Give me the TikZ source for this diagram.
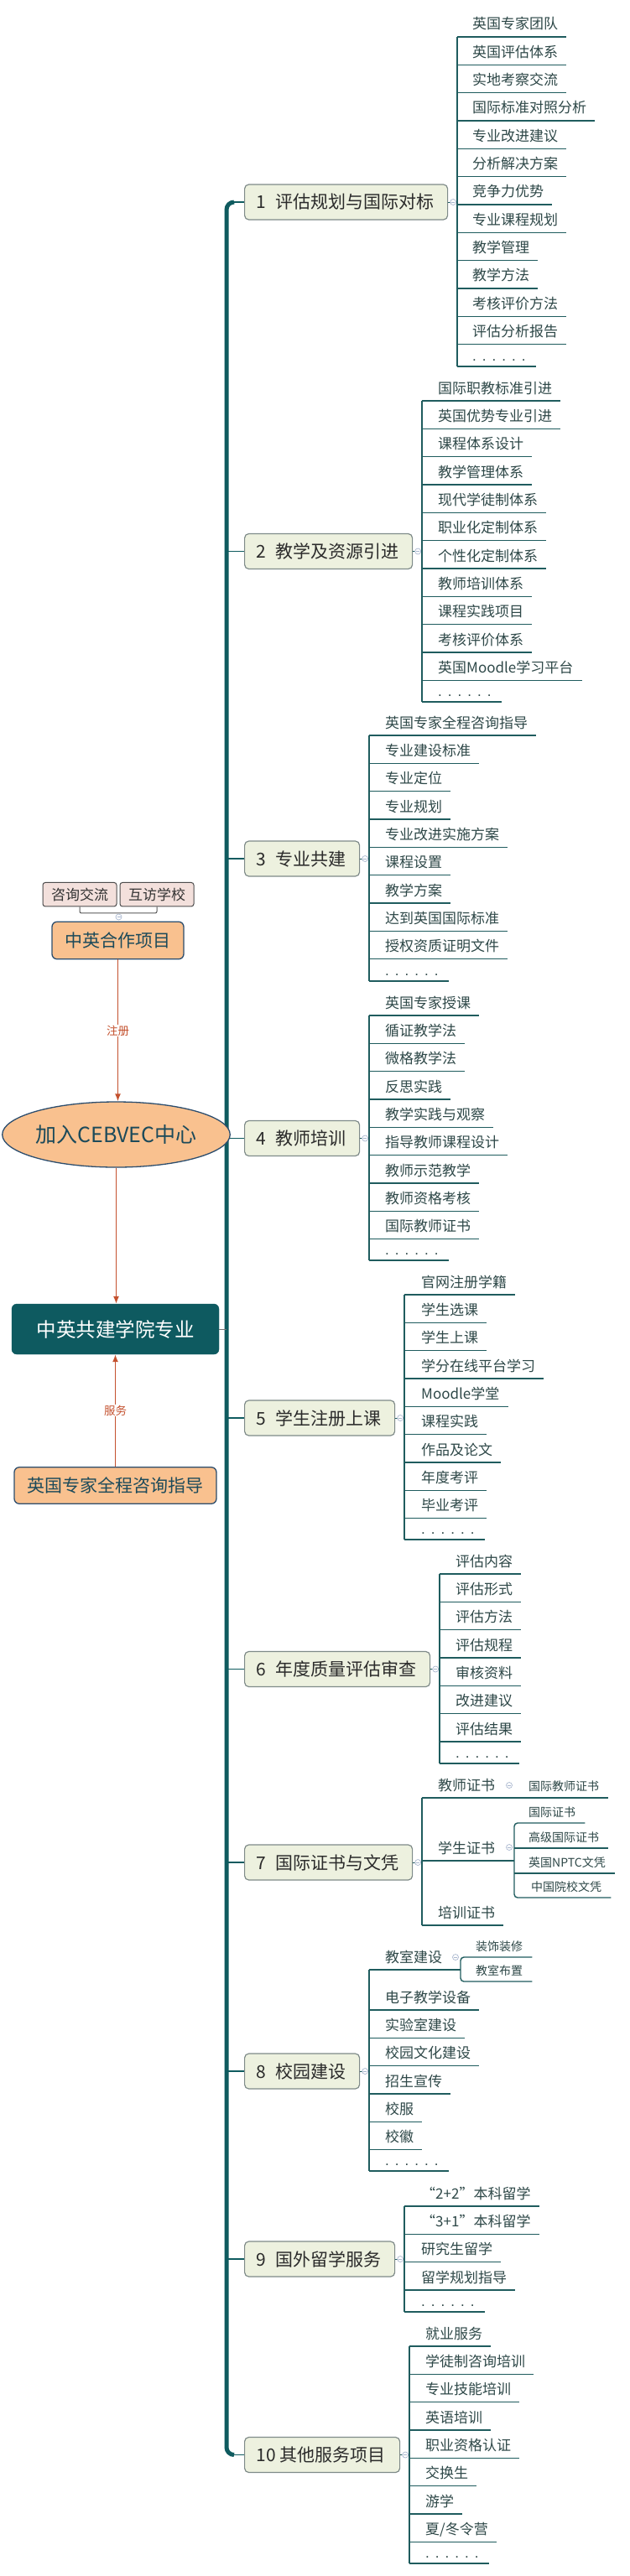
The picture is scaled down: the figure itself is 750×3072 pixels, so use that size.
\documentclass[tikz,border=0pt]{standalone}
\usepackage{fontspec}
\usepackage{graphicx}
\setmainfont{Noto Sans CJK SC}
\newfontfamily\latf{Liberation Sans}
\usetikzlibrary{shapes.geometric,arrows.meta}
\definecolor{spinec}{HTML}{0F5B5F}
\definecolor{linec}{HTML}{1F5C5E}
\definecolor{itemc}{HTML}{2E4848}
\definecolor{nodef}{HTML}{EDF1DF}
\definecolor{nodeb}{HTML}{7F8B89}
\definecolor{nodet}{HTML}{2B2B2B}
\definecolor{orf}{HTML}{F9C18F}
\definecolor{orb}{HTML}{2C4D6D}
\definecolor{ort}{HTML}{1C4A5A}
\definecolor{pillf}{HTML}{F3E0DC}
\definecolor{arrc}{HTML}{C4512E}
\definecolor{darkf}{HTML}{0E5A60}
\definecolor{minc}{HTML}{A9B7CF}
\tikzset{
  x=1pt, y=-1pt,
  mainbox/.style={draw=nodeb, fill=nodef, line width=1.2pt, rounded corners=5pt,
    minimum height=42pt, inner xsep=14pt, inner ysep=0pt, anchor=west, align=left,
    font=\fontsize{21}{25}\selectfont, text=nodet},
  leaf/.style={inner sep=0pt, anchor=base west, font=\fontsize{17}{20}\selectfont, text=itemc},
  sleaf/.style={leaf, font=\fontsize{14}{17}\selectfont},
  ul/.style={draw=linec, line width=1.4pt},
  link/.style={draw=linec, line width=1pt},
  spine/.style={draw=spinec, line width=5pt},
  branch/.style={draw=spinec, line width=1.3pt},
  minus/.style={circle, draw=minc, fill=white, line width=0.7pt, minimum size=7pt, inner sep=0pt,
    path picture={\draw[minc, line width=0.7pt] ([xshift=-2pt]path picture bounding box.center) -- ([xshift=2pt]path picture bounding box.center);}},
  pill/.style={draw=black!70, fill=pillf, line width=1pt, rounded corners=3pt, minimum width=88pt,
    minimum height=28.5pt, inner sep=0pt, font=\fontsize{17}{20}\selectfont, text=black!80},
  orbox/.style={draw=orb, fill=orf, line width=1.3pt, rounded corners=6pt, inner sep=0pt,
    font=\fontsize{21}{25}\selectfont, text=ort},
  arr/.style={draw=arrc, line width=1.4pt, -{Latex[length=9pt,width=7pt]}},
  lbl/.style={fill=white, inner sep=1pt, text=arrc, font=\fontsize{13.5}{16}\selectfont},
}
\newcommand\dotsx{{\latf .\kern7pt.\kern7pt.\kern7pt.\kern7pt.\kern7pt.}}
\newcommand\leafi[5]{%
  \node[leaf] (#1) at (#3,#4-9) {#5};
  \coordinate (#1-u) at (#2,#4);
  \draw[ul] (#1-u) -- (#1-u -| #1.east) -- ++(10,0);}
\newcommand\dotleaf[4]{%
  \node[leaf] (#1) at (#3,#4-7) {\dotsx};
  \coordinate (#1-u) at (#2,#4);
  \draw[ul] (#1-u) -- ++(#3-#2+76,0);}
\newcommand\hookup[2]{%
  \draw[link] (#1.east) -- (#1.east -| #2);
  \node[minus] (#1-m) at ([xshift=6pt]#1.east) {};}
\begin{document}
\begin{tikzpicture}
\useasboundingbox[fill=white] (0,0) rectangle (750,3072);

% ---------- main nodes ----------
\node[mainbox, text width=214pt] (n1) at (291,241) {1\kern11pt 评估规划与国际对标};
\node[mainbox, text width=172pt] (n2) at (291,657.5) {2\kern11pt 教学及资源引进};
\node[mainbox, text width=109pt] (n3) at (291,1024) {3\kern11pt 专业共建};
\node[mainbox, text width=109pt] (n4) at (291,1357.5) {4\kern11pt 教师培训};
\node[mainbox, text width=151pt] (n5) at (291,1691) {5\kern11pt 学生注册上课};
\node[mainbox, text width=193pt] (n6) at (291,1990.5) {6\kern11pt 年度质量评估审查};
\node[mainbox, text width=172pt] (n7) at (291,2221) {7\kern11pt 国际证书与文凭};
\node[mainbox, text width=109pt] (n8) at (291,2470) {8\kern11pt 校园建设};
\node[mainbox, text width=151pt] (n9) at (291,2694) {9\kern11pt 国外留学服务};
\node[mainbox, text width=157pt] (n10) at (291,2927.5) {10\kern5pt 其他服务项目};

% ---------- spine ----------
\coordinate (st) at (270,241);
\coordinate (sb) at (270,2927.5);
\draw[spine, rounded corners=9pt] ([xshift=-12pt]n1.west) -- (st) -- (sb) -- ([xshift=-12pt]n10.west);
\draw[branch] (n1.west) -- ++(-12,0);
\draw[branch] (n10.west) -- ++(-12,0);
\foreach \k in {2,...,9} {\draw[branch] (n\k.west) -- (n\k.west -| st);}

% ---------- branch 1 ----------
\foreach \t [count=\i from 0] in {英国专家团队,英国评估体系,实地考察交流,国际标准对照分析,专业改进建议,分析解决方案,竞争力优势,专业课程规划,教学管理,教学方法,考核评价方法,评估分析报告}
  {\leafi{a\i}{545}{563}{44+33.333*\i}{\t}}
\dotleaf{ad}{545}{563}{437}
\draw[ul] (a0-u) -- (ad-u);
\hookup{n1}{a0-u}

% ---------- branch 2 ----------
\foreach \t [count=\i from 0] in {国际职教标准引进,英国优势专业引进,课程体系设计,教学管理体系,现代学徒制体系,职业化定制体系,个性化定制体系,教师培训体系,课程实践项目,考核评价体系,英国Moodle学习平台}
  {\leafi{b\i}{503}{522}{478+33.333*\i}{\t}}
\dotleaf{bd}{503}{522}{837}
\draw[ul] (b0-u) -- (bd-u);
\hookup{n2}{b0-u}

% ---------- branch 3 ----------
\foreach \t [count=\i from 0] in {英国专家全程咨询指导,专业建设标准,专业定位,专业规划,专业改进实施方案,课程设置,教学方案,达到英国国际标准,授权资质证明文件}
  {\leafi{c\i}{440}{459}{877+33.333*\i}{\t}}
\dotleaf{cd}{440}{459}{1170}
\draw[ul] (c0-u) -- (cd-u);
\hookup{n3}{c0-u}

% ---------- branch 4 ----------
\foreach \t [count=\i from 0] in {英国专家授课,循证教学法,微格教学法,反思实践,教学实践与观察,指导教师课程设计,教师示范教学,教师资格考核,国际教师证书}
  {\leafi{d\i}{440}{459}{1211+33.333*\i}{\t}}
\dotleaf{dd}{440}{459}{1503}
\draw[ul] (d0-u) -- (dd-u);
\hookup{n4}{d0-u}

% ---------- branch 5 ----------
\foreach \t [count=\i from 0] in {官网注册学籍,学生选课,学生上课,学分在线平台学习,Moodle学堂,课程实践,作品及论文,年度考评,毕业考评}
  {\leafi{e\i}{482}{502}{1544+33.333*\i}{\t}}
\dotleaf{ed}{482}{502}{1836}
\draw[ul] (e0-u) -- (ed-u);
\hookup{n5}{e0-u}

% ---------- branch 6 ----------
\foreach \t [count=\i from 0] in {评估内容,评估形式,评估方法,评估规程,审核资料,改进建议,评估结果}
  {\leafi{f\i}{524}{543}{1877+33.333*\i}{\t}}
\dotleaf{fd}{524}{543}{2103}
\draw[ul] (f0-u) -- (fd-u);
\hookup{n6}{f0-u}

% ---------- branch 7 ----------
\node[leaf] (g1) at (522,2135) {教师证书};
\coordinate (g1-u) at (503,2144);
\node[sleaf] (g1a) at (630,2135) {国际教师证书};
\draw[ul] (g1-u) -- (g1-u -| g1a.east) -- ++(11,0);
\node[minus] (g1-m) at (607,2129) {};
\node[leaf] (g2) at (522,2210) {学生证书};
\coordinate (g2-u) at (503,2219);
\coordinate (g2-v) at (613,2219);
\draw[ul] (g2-u) -- (g2-v);
\node[minus] (g2-m) at (607,2203) {};
\node[sleaf] (h1) at (630,2166) {国际证书};
\coordinate (h1-u) at (613,2174);
\node[sleaf] (h2) at (630,2196) {高级国际证书};
\coordinate (h2-u) at (613,2204);
\node[sleaf] (h3) at (630,2226) {英国NPTC文凭};
\coordinate (h3-u) at (613,2234);
\node[sleaf] (h4) at (633,2255) {中国院校文凭};
\coordinate (h4-u) at (613,2263);
\draw[ul, rounded corners=4pt] (h1-u -| h1.east) ++(11,0) -- (h1-u) -- (h4-u) -- (h4-u -| h4.east) -- ++(11,0);
\draw[ul] (h2-u) -- (h2-u -| h2.east) -- ++(11,0);
\draw[ul] (h3-u) -- (h3-u -| h3.east) -- ++(11,0);
\leafi{g3}{503}{522}{2296}{培训证书}
\draw[ul] (g1-u) -- (g3-u);
\hookup{n7}{g1-u}

% ---------- branch 8 ----------
\node[leaf] (k1) at (459,2340) {教室建设};
\coordinate (k1-u) at (440,2349);
\coordinate (k1-v) at (549,2349);
\draw[ul] (k1-u) -- (k1-v);
\node[minus] (k1-m) at (543,2334) {};
\node[sleaf] (k1a) at (567,2326) {装饰装修};
\coordinate (k1a-u) at (549,2334);
\node[sleaf] (k1b) at (567,2355) {教室布置};
\coordinate (k1b-u) at (549,2363);
\draw[ul, rounded corners=4pt] (k1a-u -| k1a.east) ++(11,0) -- (k1a-u) -- (k1b-u) -- (k1b-u -| k1b.east) -- ++(11,0);
\foreach \t [count=\i from 0] in {电子教学设备,实验室建设,校园文化建设,招生宣传,校服,校徽}
  {\leafi{m\i}{440}{459}{2397+33.333*\i}{\t}}
\dotleaf{md}{440}{459}{2589}
\draw[ul] (k1-u) -- (md-u);
\hookup{n8}{k1-u}

% ---------- branch 9 ----------
\foreach \t [count=\i from 0] in {“2+2”本科留学,“3+1”本科留学,研究生留学,留学规划指导}
  {\leafi{p\i}{482}{502}{2631+33.333*\i}{\t}}
\dotleaf{pd}{482}{502}{2757}
\draw[ul] (p0-u) -- (pd-u);
\hookup{n9}{p0-u}

% ---------- branch 10 ----------
\foreach \t [count=\i from 0] in {就业服务,学徒制咨询培训,专业技能培训,英语培训,职业资格认证,交换生,游学,{夏/冬令营}}
  {\leafi{q\i}{488}{507}{2798+33.333*\i}{\t}}
\dotleaf{qd}{488}{507}{3057}
\draw[ul] (q0-u) -- (qd-u);
\hookup{n10}{q0-u}

% ---------- left flow ----------
\node[pill] (pa) at (95,1066.7) {咨询交流};
\node[pill] (pb) at (187,1066.7) {互访学校};
\draw[draw=black!65, line width=1pt, rounded corners=2pt] (pa.south) -- ++(0,7.5) -| (pb.south);
\node[minus] (pm) at (141.5,1093.5) {};
\node[orbox, minimum width=157pt, minimum height=44.5pt] (hz) at (140.5,1121.5) {中英合作项目};
\node[orbox, ellipse, minimum width=249pt, minimum height=78pt, font=\fontsize{25}{29}\selectfont] (cv) at (138.5,1353) {加入CEBVEC中心};
\node[draw=darkf, fill=darkf, rounded corners=6pt, minimum width=247pt, minimum height=60pt, inner sep=0pt, text=white, font=\fontsize{23.5}{27}\selectfont] (ds) at (137.5,1585) {中英共建学院专业};
\node[orbox, minimum width=241pt, minimum height=43.5pt] (ex) at (137.5,1771.5) {英国专家全程咨询指导};
\draw[arr] (hz.south) -- node[lbl] {注册} (hz.south |- cv.north);
\draw[arr] (cv.south) -- (cv.south |- ds.north);
\draw[arr] (ex.north) -- node[lbl] {服务} (ex.north |- ds.south);
\draw[draw=black!55, line width=1pt] (ds.east) -- (ds.east -| st);
\end{tikzpicture}
\end{document}
